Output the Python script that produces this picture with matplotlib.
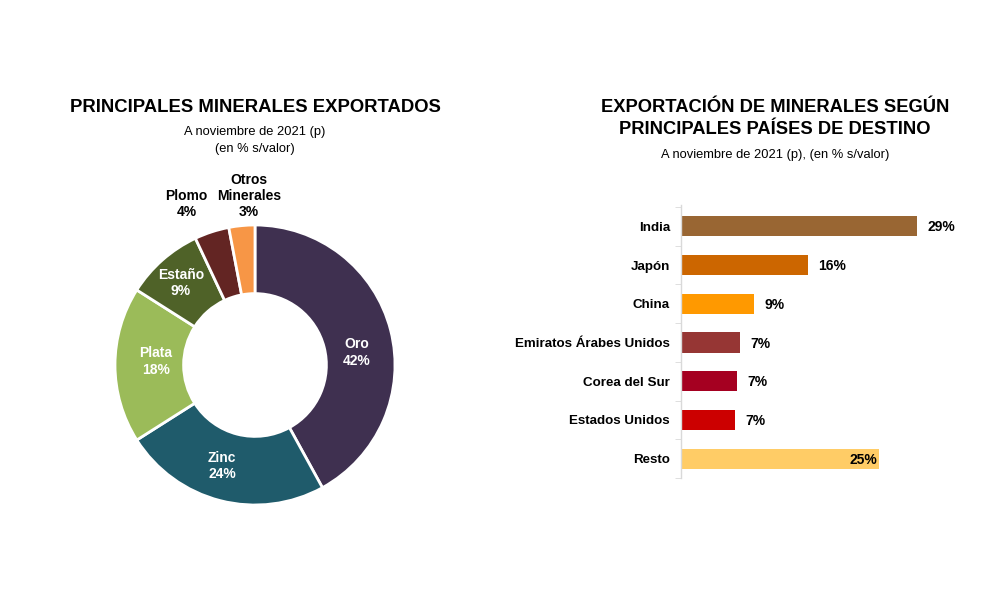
import numpy as np
import matplotlib
matplotlib.use("Agg")
import matplotlib.pyplot as plt

plt.rcParams['font.family'] = ['Liberation Sans', 'DejaVu Sans']

# datos del gráfico de dona
minerales = ['Oro', 'Zinc', 'Plata', 'Estaño', 'Plomo', 'Otros\nMinerales']
mineral_pct = [42, 24, 18, 9, 4, 3]
mineral_colores = ['#3F3050', '#1F5B6B', '#9BBB59', '#4F6228', '#632523', '#F79646']

# datos del gráfico de barras
paises = ['India', 'Japón', 'China', 'Emiratos Árabes Unidos', 'Corea del Sur', 'Estados Unidos', 'Resto']
pais_valor = [29.0, 15.6, 9.0, 7.2, 6.9, 6.6, 24.3]
pais_etiqueta = ['29%', '16%', '9%', '7%', '7%', '7%', '25%']
pais_colores = ['#996633', '#CC6600', '#FF9900', '#963634', '#A50021', '#CC0000', '#FFCC66']

W, H = 1000, 600
fig = plt.figure(figsize=(10, 6), dpi=100)
fig.patch.set_facecolor('white')

# ---------------- dona ----------------
cx, cy, R = 255, 365, 140
ax1 = fig.add_axes([(cx - R) / W, (H - cy - R) / H, 2 * R / W, 2 * R / H])
wedges, _ = ax1.pie(mineral_pct, colors=mineral_colores, startangle=90, counterclock=False,
                    radius=1.0, wedgeprops=dict(width=0.49, edgecolor='white', linewidth=2))
ax1.set_xlim(-1, 1)
ax1.set_ylim(-1, 1)
ax1.set_aspect('equal')
ax1.axis('off')

# posición de etiquetas (ángulo en grados, radio relativo) como en el original
lab_ang = [7, -108, 178, 132, 113, 92]
lab_rad = [0.73, 0.76, 0.71, 0.79, 1.25, 1.21]
for i, (nom, p) in enumerate(zip(minerales, mineral_pct)):
    a = np.deg2rad(lab_ang[i])
    x, y = lab_rad[i] * np.cos(a), lab_rad[i] * np.sin(a)
    col = 'white' if i < 4 else 'black'
    ax1.text(x, y, '%s\n%d%%' % (nom, p), ha='center', va='center', color=col,
             fontsize=10, fontweight='bold', linespacing=1.2, clip_on=False)

fig.text(255 / W, 1 - 107 / H, 'PRINCIPALES MINERALES EXPORTADOS', ha='center', va='center',
         fontsize=13.3, fontweight='bold')
fig.text(255 / W, 1 - 132 / H, 'A noviembre de 2021 (p)', ha='center', va='center', fontsize=9.3)
fig.text(255 / W, 1 - 149 / H, '(en % s/valor)', ha='center', va='center', fontsize=9.3)

# ---------------- barras ----------------
x0, ytop, ybot = 681, 205, 478
ax2 = fig.add_axes([x0 / W, (H - ybot) / H, 285 / W, (ybot - ytop) / H])
ypos = np.arange(len(paises))
ax2.barh(ypos, pais_valor, height=0.52, color=pais_colores)
ax2.set_xlim(0, 35)
ax2.set_ylim(6.5, -0.55)
for s in ['top', 'right', 'bottom']:
    ax2.spines[s].set_visible(False)
ax2.spines['left'].set_color('#D9D9D9')
ax2.spines['left'].set_linewidth(1)
ax2.set_xticks([])
ax2.set_yticks(ypos)
ax2.set_yticklabels(paises, fontsize=9.6, fontweight='bold')
ax2.tick_params(axis='y', which='major', length=0, pad=8)
ax2.set_yticks(np.arange(-0.5, 7, 1), minor=True)
ax2.tick_params(axis='y', which='minor', length=4, color='#D9D9D9', direction='out')

for i, (v, lab) in enumerate(zip(pais_valor, pais_etiqueta)):
    if paises[i] == 'Resto':
        ax2.text(v - 0.2, i + 0.03, lab, ha='right', va='center', fontsize=10, fontweight='bold')
    else:
        ax2.text(v + 1.3, i + 0.03, lab, ha='left', va='center', fontsize=10, fontweight='bold')

fig.text(775 / W, 1 - 107 / H, 'EXPORTACIÓN DE MINERALES SEGÚN', ha='center', va='center',
         fontsize=13.2, fontweight='bold')
fig.text(775 / W, 1 - 130 / H, 'PRINCIPALES PAÍSES DE DESTINO', ha='center', va='center',
         fontsize=13.2, fontweight='bold')
fig.text(775 / W, 1 - 155 / H, 'A noviembre de 2021 (p), (en % s/valor)', ha='center', va='center',
         fontsize=9.3)

fig.savefig('out.png', dpi=100, facecolor='white')
